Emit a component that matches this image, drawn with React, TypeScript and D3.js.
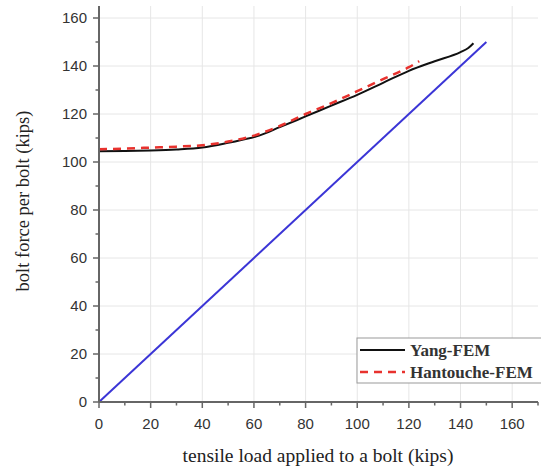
import React from "react";
import * as d3 from "d3";

const yangX = [0, 10, 20, 30, 40, 50, 62, 70, 80, 90, 100, 110, 120, 130, 140, 143, 145];
const yangY = [104.5, 104.6, 104.8, 105.2, 106, 108, 111, 114.5, 119, 123.5, 128, 133, 138, 142, 145.8, 147.5, 149.5];
const hantX = [0, 10, 20, 30, 40, 50, 60, 70, 80, 90, 100, 110, 120, 124];
const hantY = [105.3, 105.6, 106, 106.4, 107, 108.5, 111, 115, 120, 124.5, 129.5, 134.5, 139.5, 142];
const blueX = [0, 150];
const blueY = [0, 150];
const xTicks = [0, 20, 40, 60, 80, 100, 120, 140, 160];
const yTicks = [0, 20, 40, 60, 80, 100, 120, 140, 160];
const xMinor = [10, 30, 50, 70, 90, 110, 130, 150, 170];
const yMinor = [10, 30, 50, 70, 90, 110, 130, 150];
const legendLabels = ["Yang-FEM", "Hantouche-FEM"];

export default function App() {
  const W = 541, H = 468;
  const x = d3.scaleLinear().domain([0, 170]).range([99, 538]);
  const y = d3.scaleLinear().domain([0, 165]).range([402, 6]);
  const line = d3.line<[number, number]>().x(d => x(d[0])).y(d => y(d[1])).curve(d3.curveMonotoneX);
  const zip = (a: number[], b: number[]) => a.map((v, i) => [v, b[i]] as [number, number]);
  const axisColor = "#666";
  const tickFont = "'Liberation Sans', Arial, sans-serif";
  const serif = "'Liberation Serif', 'Times New Roman', serif";
  return (
    <svg width={W} height={H} style={{ position: "absolute", left: 0, top: 0, background: "#fff" }}>
      <rect x={0} y={0} width={W} height={H} fill="#fff" />
      {xTicks.filter(t => t > 0).map(t => (
        <line key={"gx" + t} x1={x(t)} x2={x(t)} y1={y(0)} y2={y(165)} stroke="#e6e6e6" strokeWidth={1} />
      ))}
      {yTicks.filter(t => t > 0).map(t => (
        <line key={"gy" + t} x1={x(0)} x2={x(170)} y1={y(t)} y2={y(t)} stroke="#e6e6e6" strokeWidth={1} />
      ))}
      <path d={line(zip(blueX, blueY)) || ""} fill="none" stroke="#3b35d6" strokeWidth={2} />
      <path d={line(zip(yangX, yangY)) || ""} fill="none" stroke="#111" strokeWidth={2} />
      <path d={line(zip(hantX, hantY)) || ""} fill="none" stroke="#e8322e" strokeWidth={2.5} strokeDasharray="8,6" />
      {/* axes */}
      <line x1={x(0)} x2={x(170)} y1={y(0)} y2={y(0)} stroke={axisColor} strokeWidth={2} />
      <line x1={x(0)} x2={x(0)} y1={y(0)} y2={y(165)} stroke={axisColor} strokeWidth={2} />
      {xTicks.map(t => (
        <g key={"xt" + t}>
          <line x1={x(t)} x2={x(t)} y1={y(0)} y2={y(0) + 6} stroke={axisColor} strokeWidth={1.5} />
          <text x={x(t)} y={429} textAnchor="middle" fontFamily={tickFont} fontSize={15} fill="#333">{t}</text>
        </g>
      ))}
      {xMinor.map(t => (
        <line key={"xm" + t} x1={x(t)} x2={x(t)} y1={y(0)} y2={y(0) + 3.5} stroke={axisColor} strokeWidth={1.5} />
      ))}
      {yTicks.map(t => (
        <g key={"yt" + t}>
          <line x1={x(0) - 6} x2={x(0)} y1={y(t)} y2={y(t)} stroke={axisColor} strokeWidth={1.5} />
          <text x={87} y={y(t) + 5} textAnchor="end" fontFamily={tickFont} fontSize={15} fill="#333">{t}</text>
        </g>
      ))}
      {yMinor.map(t => (
        <line key={"ym" + t} x1={x(0) - 3.5} x2={x(0)} y1={y(t)} y2={y(t)} stroke={axisColor} strokeWidth={1.5} />
      ))}
      <text x={318} y={462} textAnchor="middle" fontFamily={serif} fontSize={19.5} fill="#222">tensile load applied to a bolt (kips)</text>
      <text transform={`translate(29,201) rotate(-90)`} textAnchor="middle" fontFamily={serif} fontSize={18.5} fill="#222">bolt force per bolt (kips)</text>
      {/* legend */}
      <rect x={357} y={338} width={190} height={45} fill="#fff" stroke="#999" strokeWidth={1} />
      <line x1={360} x2={405} y1={350} y2={350} stroke="#111" strokeWidth={2} />
      <line x1={360} x2={405} y1={372} y2={372} stroke="#e8322e" strokeWidth={2.5} strokeDasharray="8,6" />
      <text x={410} y={356} fontFamily={serif} fontSize={17} fontWeight="bold" fill="#333">{legendLabels[0]}</text>
      <text x={410} y={378} fontFamily={serif} fontSize={17} fontWeight="bold" fill="#333">{legendLabels[1]}</text>
    </svg>
  );
}
